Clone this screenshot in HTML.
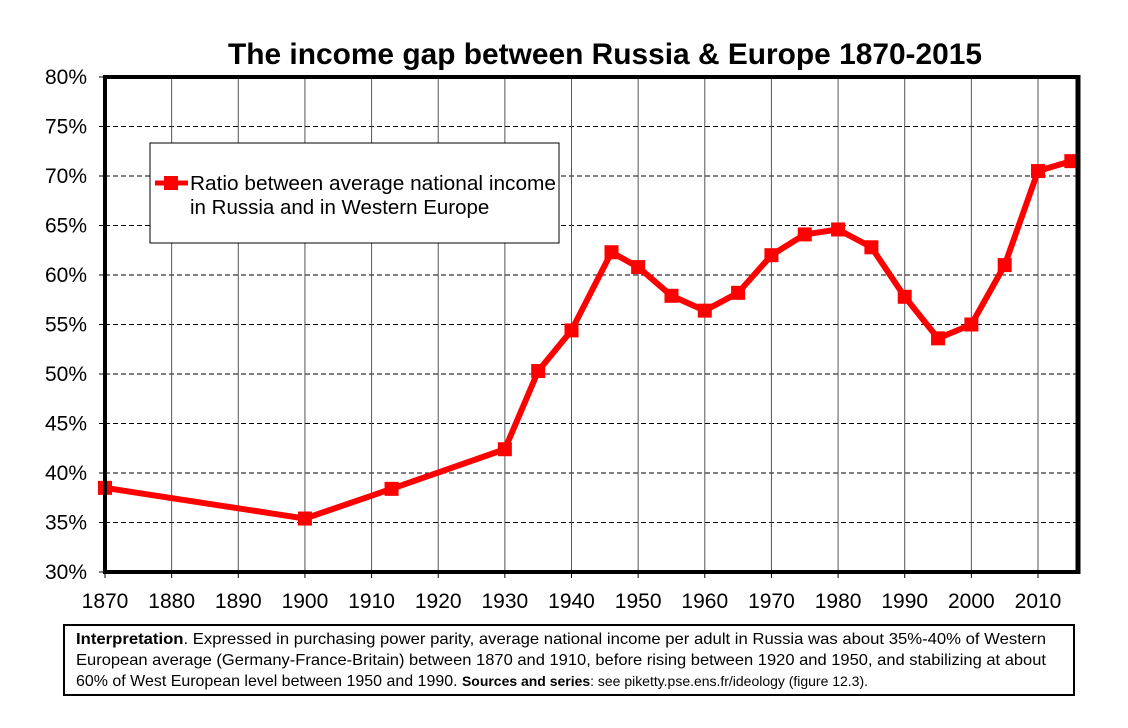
<!DOCTYPE html>
<html><head><meta charset="utf-8"><style>
body{margin:0;background:#fff;width:1128px;height:723px;overflow:hidden;font-family:"Liberation Sans",Arial,sans-serif}
</style></head><body>
<svg width="1128" height="723" xmlns="http://www.w3.org/2000/svg">
<text x="228" y="64" font-size="30" font-weight="bold" textLength="754" lengthAdjust="spacingAndGlyphs">The income gap between Russia &amp; Europe 1870-2015</text>
<g id="grid"></g>
<g id="yticks"></g>
<g id="xticks"></g>
<g id="series"></g>
<rect x="105" y="77" width="973" height="495" fill="none" stroke="#000" stroke-width="1"/>
<line x1="105" y1="76" x2="105" y2="574" stroke="#000" stroke-width="4"/>
<line x1="103" y1="572" x2="1080" y2="572" stroke="#000" stroke-width="4"/>
<line x1="1078" y1="75" x2="1078" y2="574" stroke="#000" stroke-width="5"/>
<line x1="103" y1="77" x2="1080" y2="77" stroke="#000" stroke-width="4"/>
<g>
<rect x="150" y="143" width="409" height="100" fill="#fff" stroke="#000" stroke-width="1"/>
<line x1="155" y1="183" x2="188" y2="183" stroke="#f00" stroke-width="5"/>
<rect x="164" y="176" width="14" height="14" fill="#f00"/>
<text x="190" y="190" font-size="20.5" textLength="366" lengthAdjust="spacingAndGlyphs">Ratio between average national income</text>
<text x="190" y="214" font-size="20.5">in Russia and in Western Europe</text>
</g>
<g>
<rect x="64" y="625" width="1010" height="70" fill="#fff" stroke="#000" stroke-width="2"/>
<text x="76" y="644" font-size="16" textLength="970" lengthAdjust="spacingAndGlyphs"><tspan font-weight="bold">Interpretation</tspan>. Expressed in purchasing power parity, average national income per adult in Russia was about 35%-40% of Western</text>
<text x="76" y="665" font-size="16" textLength="970" lengthAdjust="spacingAndGlyphs">European average (Germany-France-Britain) between 1870 and 1910, before rising between 1920 and 1950, and stabilizing at about</text>
<text x="76" y="686" font-size="16" textLength="792" lengthAdjust="spacingAndGlyphs">60% of West European level between 1950 and 1990. <tspan font-weight="bold" font-size="14">Sources and series</tspan><tspan font-size="14">: see piketty.pse.ens.fr/ideology (figure 12.3).</tspan></text>
</g>
</svg>
<script>
const years=[1870,1900,1913,1930,1935,1940,1946,1950,1955,1960,1965,1970,1975,1980,1985,1990,1995,2000,2005,2010,2015];
const ratios=[38.5,35.4,38.4,42.4,50.3,54.4,62.3,60.8,57.9,56.4,58.2,62.0,64.1,64.6,62.8,57.8,53.6,55.0,61.0,70.5,71.5];
const yTicks=[30,35,40,45,50,55,60,65,70,75,80];
const xTicks=[1870,1880,1890,1900,1910,1920,1930,1940,1950,1960,1970,1980,1990,2000,2010];
const NS="http://www.w3.org/2000/svg";
const X=y=>105+(y-1870)*(973/146);
const Y=v=>572-(v-30)*9.9;
function mk(tag,attrs,parent){const e=document.createElementNS(NS,tag);for(const k in attrs)e.setAttribute(k,attrs[k]);parent.appendChild(e);return e;}
const grid=document.getElementById('grid'),yt=document.getElementById('yticks'),xt=document.getElementById('xticks'),ser=document.getElementById('series');
yTicks.forEach(v=>{
 if(v>30&&v<80){const l=mk('line',{x1:105,x2:1078,y1:Y(v),y2:Y(v),stroke:'#000','stroke-width':1,'stroke-dasharray':'5,3'},grid);
 
 }
 mk('line',{x1:99,x2:105,y1:Y(v),y2:Y(v),stroke:'#000'},yt);
 const t=mk('text',{x:87,y:Y(v)+7,'text-anchor':'end','font-size':21},yt);t.textContent=v+'%';
 
 
});
xTicks.forEach(yr=>{
 if(yr>1870){const l=mk('line',{x1:X(yr),x2:X(yr),y1:77,y2:572,stroke:'#555','stroke-width':1},grid);
 
 }
 mk('line',{x1:X(yr),x2:X(yr),y1:572,y2:578,stroke:'#000'},xt);
 const t=mk('text',{x:X(yr),y:608,'text-anchor':'middle','font-size':21},xt);t.textContent=yr;
 
 
});
const pts=years.map((yr,i)=>X(yr)+','+Y(ratios[i])).join(' ');
const pl=mk('polyline',{points:pts,fill:'none',stroke:'#f00','stroke-width':6,'stroke-linejoin':'round'},ser);


years.forEach((yr,i)=>{
 const r=mk('rect',{x:X(yr)-7,y:Y(ratios[i])-7,width:14,height:14,fill:'#f00'},ser);
 
 
});
</script>
</body></html>
